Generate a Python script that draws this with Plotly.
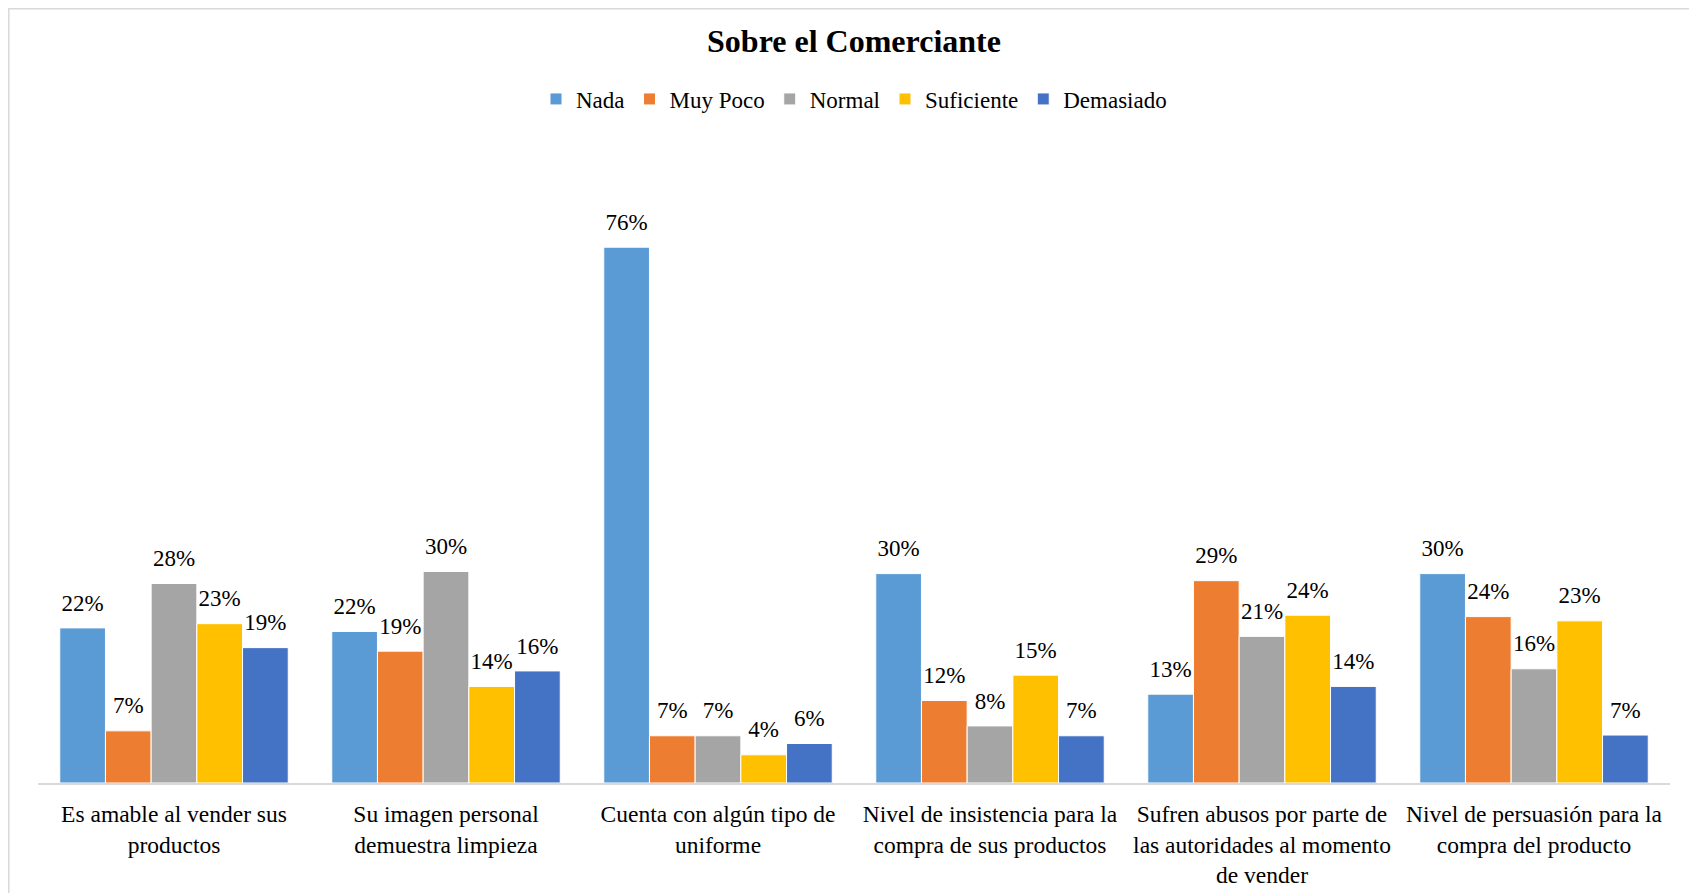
import plotly.graph_objects as go

categories = [
    "Es amable al vender sus<br>productos",
    "Su imagen personal<br>demuestra limpieza",
    "Cuenta con algún tipo de<br>uniforme",
    "Nivel de insistencia para la<br>compra de sus productos",
    "Sufren abusos por parte de<br>las autoridades al momento<br>de vender",
    "Nivel de persuasión para la<br>compra del producto",
]

nada = [0.220, 0.215, 0.760, 0.297, 0.126, 0.297]
muy_poco = [0.074, 0.187, 0.067, 0.117, 0.287, 0.236]
normal = [0.283, 0.300, 0.067, 0.081, 0.208, 0.162]
suficiente = [0.226, 0.137, 0.040, 0.153, 0.238, 0.230]
demasiado = [0.192, 0.159, 0.056, 0.067, 0.137, 0.068]

series = [
    ("Nada", nada, "#5B9BD5"),
    ("Muy Poco", muy_poco, "#ED7D31"),
    ("Normal", normal, "#A5A5A5"),
    ("Suficiente", suficiente, "#FFC000"),
    ("Demasiado", demasiado, "#4472C4"),
]

FONT = "Liberation Serif"
GAP = 0.16

fig = go.Figure()
for name, vals, color in series:
    fig.add_trace(go.Bar(
        name=name, x=categories, y=vals,
        marker=dict(color=color, line=dict(color="white", width=1)),
        hoverinfo="x+y",
    ))
for name, vals, color in series:
    fig.add_trace(go.Scatter(
        name=name, x=categories, y=vals, mode="markers+text",
        marker=dict(size=17, opacity=0, color=color),
        text=[f"{round(v * 100)}%" for v in vals], textposition="top center",
        textfont=dict(family=FONT, size=23, color="#000000"),
        showlegend=False, hoverinfo="skip", cliponaxis=False,
    ))

fig.update_layout(
    width=1697, height=893,
    margin=dict(l=30, r=35, t=211, b=118),
    paper_bgcolor="white", plot_bgcolor="white",
    barmode="group", bargap=GAP, bargroupgap=0,
    scattermode="group", scattergap=GAP,
    font=dict(family=FONT, color="#000000"),
    title=dict(text="<b>Sobre el Comerciante</b>", x=0.5, xref="paper", xanchor="center",
               y=1 - 33 / 893, yref="container", yanchor="middle",
               font=dict(family=FONT, size=32, color="#000000")),
    legend=dict(orientation="h", x=0.5, xanchor="center", xref="paper",
                y=1 - 91 / 893, yref="container", yanchor="middle",
                font=dict(family=FONT, size=23, color="#000000"),
                itemwidth=30, traceorder="normal"),
    showlegend=True,
)
fig.update_xaxes(showline=True, linecolor="#D9D9D9", linewidth=1.5,
                 showgrid=False, ticks="outside", ticklen=9, tickcolor="rgba(0,0,0,0)",
                 tickfont=dict(family=FONT, size=23.5, color="#000000"))
fig.update_yaxes(visible=False, range=[0, 0.8], showgrid=False)

fig.add_shape(type="rect", xref="paper", yref="paper",
              x0=-0.0179, x1=1.1, y0=-0.3, y1=1.3728,
              line=dict(color="#D9D9D9", width=1.5), layer="above")

fig.write_html("out.html")
